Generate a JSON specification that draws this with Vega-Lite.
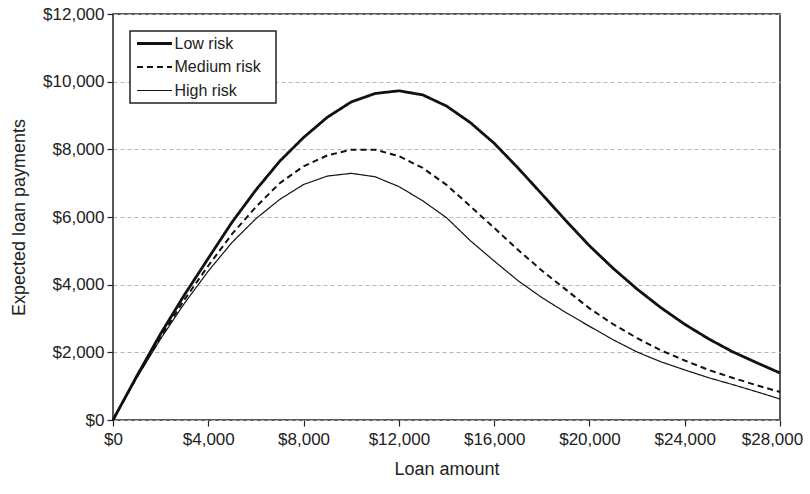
{
  "$schema": "https://vega.github.io/schema/vega-lite/v6.json",
  "width": 667,
  "height": 406,
  "autosize": {"type": "none"},
  "padding": {"left": 113, "top": 14, "right": 30, "bottom": 74},
  "background": "white",
  "config": {
    "font": "Liberation Sans",
    "view": {"stroke": "#222", "strokeWidth": 1.5},
    "axis": {
      "labelFont": "Liberation Sans",
      "titleFont": "Liberation Sans",
      "labelColor": "#222",
      "titleColor": "#222",
      "labelFontSize": 17,
      "titleFontSize": 18,
      "titleFontWeight": "normal",
      "tickColor": "#222",
      "tickSize": 6,
      "tickWidth": 1.2,
      "domainColor": "#222",
      "domainWidth": 1.5
    }
  },
  "data": {
    "values": [
      {"loan": 0, "risk": "Low risk", "payment": 0},
      {"loan": 1000, "risk": "Low risk", "payment": 1300},
      {"loan": 2000, "risk": "Low risk", "payment": 2550},
      {"loan": 3000, "risk": "Low risk", "payment": 3700},
      {"loan": 4000, "risk": "Low risk", "payment": 4780},
      {"loan": 5000, "risk": "Low risk", "payment": 5850},
      {"loan": 6000, "risk": "Low risk", "payment": 6800},
      {"loan": 7000, "risk": "Low risk", "payment": 7650},
      {"loan": 8000, "risk": "Low risk", "payment": 8350},
      {"loan": 9000, "risk": "Low risk", "payment": 8950},
      {"loan": 10000, "risk": "Low risk", "payment": 9400},
      {"loan": 11000, "risk": "Low risk", "payment": 9650},
      {"loan": 12000, "risk": "Low risk", "payment": 9730},
      {"loan": 13000, "risk": "Low risk", "payment": 9610},
      {"loan": 14000, "risk": "Low risk", "payment": 9280},
      {"loan": 15000, "risk": "Low risk", "payment": 8790},
      {"loan": 16000, "risk": "Low risk", "payment": 8180},
      {"loan": 17000, "risk": "Low risk", "payment": 7450},
      {"loan": 18000, "risk": "Low risk", "payment": 6680},
      {"loan": 19000, "risk": "Low risk", "payment": 5900},
      {"loan": 20000, "risk": "Low risk", "payment": 5150},
      {"loan": 21000, "risk": "Low risk", "payment": 4480},
      {"loan": 22000, "risk": "Low risk", "payment": 3870},
      {"loan": 23000, "risk": "Low risk", "payment": 3320},
      {"loan": 24000, "risk": "Low risk", "payment": 2830},
      {"loan": 25000, "risk": "Low risk", "payment": 2400},
      {"loan": 26000, "risk": "Low risk", "payment": 2020},
      {"loan": 27000, "risk": "Low risk", "payment": 1700},
      {"loan": 28000, "risk": "Low risk", "payment": 1390},
      {"loan": 0, "risk": "Medium risk", "payment": 0},
      {"loan": 1000, "risk": "Medium risk", "payment": 1270},
      {"loan": 2000, "risk": "Medium risk", "payment": 2450},
      {"loan": 3000, "risk": "Medium risk", "payment": 3560},
      {"loan": 4000, "risk": "Medium risk", "payment": 4560},
      {"loan": 5000, "risk": "Medium risk", "payment": 5500},
      {"loan": 6000, "risk": "Medium risk", "payment": 6300},
      {"loan": 7000, "risk": "Medium risk", "payment": 7000},
      {"loan": 8000, "risk": "Medium risk", "payment": 7500},
      {"loan": 9000, "risk": "Medium risk", "payment": 7820},
      {"loan": 10000, "risk": "Medium risk", "payment": 7990},
      {"loan": 11000, "risk": "Medium risk", "payment": 7990},
      {"loan": 12000, "risk": "Medium risk", "payment": 7800},
      {"loan": 13000, "risk": "Medium risk", "payment": 7450},
      {"loan": 14000, "risk": "Medium risk", "payment": 6950},
      {"loan": 15000, "risk": "Medium risk", "payment": 6320},
      {"loan": 16000, "risk": "Medium risk", "payment": 5680},
      {"loan": 17000, "risk": "Medium risk", "payment": 5030},
      {"loan": 18000, "risk": "Medium risk", "payment": 4420},
      {"loan": 19000, "risk": "Medium risk", "payment": 3860},
      {"loan": 20000, "risk": "Medium risk", "payment": 3300},
      {"loan": 21000, "risk": "Medium risk", "payment": 2830},
      {"loan": 22000, "risk": "Medium risk", "payment": 2420},
      {"loan": 23000, "risk": "Medium risk", "payment": 2060},
      {"loan": 24000, "risk": "Medium risk", "payment": 1760},
      {"loan": 25000, "risk": "Medium risk", "payment": 1480},
      {"loan": 26000, "risk": "Medium risk", "payment": 1250},
      {"loan": 27000, "risk": "Medium risk", "payment": 1030},
      {"loan": 28000, "risk": "Medium risk", "payment": 830},
      {"loan": 0, "risk": "High risk", "payment": 0},
      {"loan": 1000, "risk": "High risk", "payment": 1250},
      {"loan": 2000, "risk": "High risk", "payment": 2400},
      {"loan": 3000, "risk": "High risk", "payment": 3450},
      {"loan": 4000, "risk": "High risk", "payment": 4400},
      {"loan": 5000, "risk": "High risk", "payment": 5250},
      {"loan": 6000, "risk": "High risk", "payment": 5950},
      {"loan": 7000, "risk": "High risk", "payment": 6520},
      {"loan": 8000, "risk": "High risk", "payment": 6960},
      {"loan": 9000, "risk": "High risk", "payment": 7210},
      {"loan": 10000, "risk": "High risk", "payment": 7290},
      {"loan": 11000, "risk": "High risk", "payment": 7190},
      {"loan": 12000, "risk": "High risk", "payment": 6900},
      {"loan": 13000, "risk": "High risk", "payment": 6480},
      {"loan": 14000, "risk": "High risk", "payment": 5980},
      {"loan": 15000, "risk": "High risk", "payment": 5300},
      {"loan": 16000, "risk": "High risk", "payment": 4700},
      {"loan": 17000, "risk": "High risk", "payment": 4120},
      {"loan": 18000, "risk": "High risk", "payment": 3620},
      {"loan": 19000, "risk": "High risk", "payment": 3180},
      {"loan": 20000, "risk": "High risk", "payment": 2770},
      {"loan": 21000, "risk": "High risk", "payment": 2370},
      {"loan": 22000, "risk": "High risk", "payment": 2010},
      {"loan": 23000, "risk": "High risk", "payment": 1720},
      {"loan": 24000, "risk": "High risk", "payment": 1480},
      {"loan": 25000, "risk": "High risk", "payment": 1250},
      {"loan": 26000, "risk": "High risk", "payment": 1050},
      {"loan": 27000, "risk": "High risk", "payment": 840},
      {"loan": 28000, "risk": "High risk", "payment": 620}
    ]
  },
  "mark": {"type": "line", "color": "#111", "strokeCap": "butt"},
  "encoding": {
    "x": {
      "field": "loan",
      "type": "quantitative",
      "title": "Loan amount",
      "scale": {"domain": [0, 28000], "nice": false},
      "axis": {
        "values": [0, 4000, 8000, 12000, 16000, 20000, 24000, 28000],
        "format": "$,.0f",
        "grid": false,
        "domain": false,
        "labelPadding": 5,
        "labelFlush": false,
        "labelOffset": {"condition": {"test": "datum.value == 28000", "value": -8}, "value": 0},
        "titlePadding": 13
      }
    },
    "y": {
      "field": "payment",
      "type": "quantitative",
      "title": "Expected loan payments",
      "scale": {"domain": [0, 12000], "nice": false},
      "axis": {
        "values": [0, 2000, 4000, 6000, 8000, 10000, 12000],
        "format": "$,.0f",
        "grid": true,
        "gridColor": "#b5b5b5",
        "gridDash": [4, 3],
        "gridWidth": 1,
        "domain": false,
        "labelPadding": 3,
        "titlePadding": 14
      }
    },
    "strokeDash": {
      "field": "risk",
      "type": "nominal",
      "scale": {"domain": ["Low risk", "Medium risk", "High risk"], "range": [[1, 0], [6, 4], [1, 0]]},
      "legend": {
        "title": null,
        "orient": "none",
        "legendX": 17,
        "legendY": 17,
        "direction": "vertical",
        "strokeColor": "#222",
        "fillColor": "white",
        "padding": 4.5,
        "symbolType": "M-3,0H3M19,0",
        "symbolSize": 136,
        "symbolOffset": 12,
        "symbolStrokeColor": "#111",
        "labelFontSize": 16,
        "labelColor": "#222",
        "labelOffset": 12,
        "rowPadding": 7.5,
        "labelLimit": 200,
        "encode": {
          "legend": {"update": {"strokeWidth": {"value": 1.5}}}
        }
      }
    },
    "strokeWidth": {
      "field": "risk",
      "type": "nominal",
      "scale": {"domain": ["Low risk", "Medium risk", "High risk"], "range": [2.8, 1.2, 1.1]},
      "legend": {
        "title": null,
        "orient": "none",
        "legendX": 17,
        "legendY": 17,
        "direction": "vertical",
        "strokeColor": "#222",
        "fillColor": "white",
        "padding": 4.5,
        "symbolType": "M-3,0H3M19,0",
        "symbolSize": 136,
        "symbolOffset": 12,
        "symbolStrokeColor": "#111",
        "labelFontSize": 16,
        "labelColor": "#222",
        "labelOffset": 12,
        "rowPadding": 7.5,
        "labelLimit": 200,
        "encode": {
          "legend": {"update": {"strokeWidth": {"value": 1.5}}}
        }
      }
    }
  }
}
